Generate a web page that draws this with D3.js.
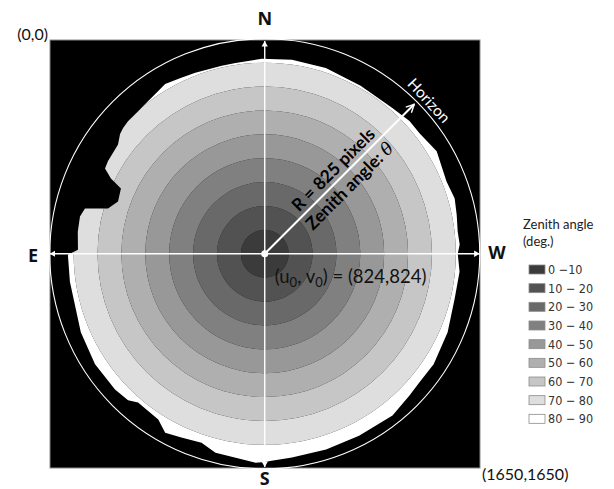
<!DOCTYPE html>
<html>
<head>
<meta charset="utf-8">
<script src="https://cdn.jsdelivr.net/npm/d3@7"></script>
<style>
  body { margin: 0; background: #fff; }
  svg { display: block; }
</style>
</head>
<body>
<svg id="chart" width="614" height="489"></svg>
<script>
// zenith angle classes (deg.)
const ringLabels = ["0 \u221210", "10 \u2212 20", "20 \u2212 30", "30 \u2212 40", "40 \u2212 50",
                    "50 \u2212 60", "60 \u2212 70", "70 \u2212 80", "80 \u2212 90"];
const ringLower = [0, 10, 20, 30, 40, 50, 60, 70, 80];
const ringUpper = [10, 20, 30, 40, 50, 60, 70, 80, 90];
const ringColors = ["#3b3b3b", "#525252", "#696969", "#808080", "#989898",
                    "#afafaf", "#c6c6c6", "#dedede", "#ffffff"];

// image frame in pixels, optical centre and radius
const imageSize = 1650;
const centerPx = [824, 824];
const radiusPx = 825;

// visible sky edge: azimuth (N=0, E=90, S=180, W=270) and zenith limit
const maskAzimuth = [0.9, 8.7, 12.9, 21.0, 25.4, 30.4, 33.2, 38.6, 41.6, 45.9, 48.4, 50.4, 53.3,
  59.5, 61.9, 63.9, 65.6, 70.4, 73.9, 75.9, 78.6, 83.3, 88.8, 90.3, 98.2, 105.1, 113.1, 123.1,
  132.2, 137.0, 139.6, 147.3, 150.9, 155.6, 161.5, 166.1, 171.9, 177.5, 180.0, 181.9, 187.6,
  197.4, 207.4, 218.3, 225.6, 230.3, 236.8, 246.8, 256.6, 264.7, 270.0, 272.7, 276.5, 281.5,
  286.2, 291.7, 300.8, 307.9, 312.5, 318.8, 330.3, 341.8, 352.0];
const maskZenith = [81.6, 80.8, 80.7, 81.1, 81.5, 82.4, 81.4, 80.2, 79.8, 79.7, 79.3, 78.6, 76.6,
  76.2, 75.8, 71.7, 66.1, 65.2, 68.3, 77.6, 78.9, 78.8, 78.2, 82.4, 82.4, 82.3, 83.7, 84.8,
  84.6, 83.9, 81.8, 82.5, 85.7, 84.5, 83.4, 85.8, 86.3, 87.6, 87.2, 86.7, 86.1,
  85.9, 85.8, 86.3, 84.8, 84.2, 84.5, 83.3, 81.7, 81.9, 80.8, 81.7, 81.3, 82.0,
  82.8, 81.9, 83.8, 82.1, 82.2, 81.1, 81.0, 81.9, 82.0];

const svg = d3.select("#chart");

let x = d3.scaleLinear().domain([0, imageSize]).range([50, 480]);
let y = d3.scaleLinear().domain([0, imageSize]).range([40, 468]);
let cx = x(centerPx[0]);
let cy = y(centerPx[1]);
let rPix = (x(radiusPx) - x(0)) ;
let r = d3.scaleLinear().domain([0, 90]).range([0, rPix]);

let defs = svg.append("defs");

defs.append("marker")
    .attr("id", "tri")
    .attr("viewBox", "0 0 10 10")
    .attr("refX", 8).attr("refY", 5)
    .attr("markerWidth", 5).attr("markerHeight", 5.5)
    .attr("markerUnits", "strokeWidth")
    .attr("orient", "auto-start-reverse")
    .append("path")
    .attr("d", "M0,0.5 L8,5 L0,9.5 Z")
    .attr("fill", "#fff");

defs.append("marker")
    .attr("id", "open")
    .attr("viewBox", "0 0 10 10")
    .attr("refX", 9).attr("refY", 5)
    .attr("markerWidth", 5).attr("markerHeight", 5)
    .attr("markerUnits", "strokeWidth")
    .attr("orient", "auto")
    .append("path")
    .attr("d", "M1,1 L9,5 L1,9")
    .attr("fill", "none")
    .attr("stroke", "#fff")
    .attr("stroke-width", 1.4);

// sky mask from the edge points
let maskPts = maskAzimuth.map((a, i) => [a, maskZenith[i]]);
let maskLine = d3.lineRadial()
    .angle(d => -d[0] * Math.PI / 180)
    .radius(d => r(d[1]))
    .curve(d3.curveLinearClosed);

defs.append("clipPath").attr("id", "sky")
    .append("path")
    .attr("transform", "translate(" + cx + "," + cy + ")")
    .attr("d", maskLine(maskPts));

// black frame
svg.append("rect")
    .attr("x", x(0)).attr("y", y(0))
    .attr("width", x(imageSize) - x(0))
    .attr("height", y(imageSize) - y(0))
    .attr("fill", "#000")
    .attr("stroke", "#8a8a8a")
    .attr("stroke-width", 1);

// zenith rings
let arc = d3.arc()
    .innerRadius(d => r(d.lo))
    .outerRadius(d => r(d.hi))
    .startAngle(0).endAngle(2 * Math.PI);

let rings = ringLower.map((lo, i) => ({lo: lo, hi: ringUpper[i], color: ringColors[i]}));

svg.append("g")
    .attr("clip-path", "url(#sky)")
    .append("g")
    .attr("transform", "translate(" + cx + "," + cy + ")")
    .selectAll("path")
    .data(rings)
    .enter().append("path")
    .attr("d", arc)
    .attr("fill", d => d.color);

// horizon
svg.append("circle")
    .attr("cx", cx).attr("cy", cy).attr("r", r(90))
    .attr("fill", "none")
    .attr("stroke", "#fff")
    .attr("stroke-width", 1.1);

// N-S and E-W axes
svg.append("line")
    .attr("x1", cx).attr("y1", y(imageSize) - 1)
    .attr("x2", cx).attr("y2", y(0) + 1)
    .attr("stroke", "#fff").attr("stroke-width", 1.4)
    .attr("marker-start", "url(#tri)")
    .attr("marker-end", "url(#tri)");

svg.append("line")
    .attr("x1", cx - r(90)).attr("y1", cy)
    .attr("x2", cx + r(90)).attr("y2", cy)
    .attr("stroke", "#fff").attr("stroke-width", 1.4)
    .attr("marker-start", "url(#tri)")
    .attr("marker-end", "url(#tri)");

// radius arrow towards 45 deg
let ang = -45 * Math.PI / 180;
let tipR = r(88.5);
svg.append("line")
    .attr("x1", cx).attr("y1", cy)
    .attr("x2", cx + tipR * Math.cos(ang)).attr("y2", cy + tipR * Math.sin(ang))
    .attr("stroke", "#fff").attr("stroke-width", 2)
    .attr("marker-end", "url(#open)");

svg.append("circle")
    .attr("cx", cx).attr("cy", cy).attr("r", 3.5)
    .attr("fill", "#fff");

// labels along the arrow
let along = 108;
let ax = cx + along * Math.cos(ang), ay = cy + along * Math.sin(ang);
svg.append("text")
    .attr("transform", "translate(" + ax + "," + ay + ") rotate(-45)")
    .attr("y", -5)
    .attr("text-anchor", "middle")
    .style("font-family", "Lato, 'Open Sans', sans-serif")
    .style("font-weight", "bold")
    .style("font-size", "17.5px")
    .attr("fill", "#000")
    .text("R = 825 pixels");

let zt = svg.append("text")
    .attr("transform", "translate(" + ax + "," + ay + ") rotate(-45)")
    .attr("y", 18)
    .attr("text-anchor", "middle")
    .style("font-family", "Lato, 'Open Sans', sans-serif")
    .style("font-weight", "bold")
    .style("font-size", "17.5px")
    .attr("fill", "#000");
zt.append("tspan").text("Zenith angle: ");
zt.append("tspan")
    .style("font-family", "'DejaVu Serif', serif")
    .style("font-style", "italic")
    .style("font-weight", "normal")
    .text("\u03b8");

// horizon label
let hAng = 47;
let hR = r(90) + 4;
let hx = cx + hR * Math.sin(hAng * Math.PI / 180);
let hy = cy - hR * Math.cos(hAng * Math.PI / 180);
svg.append("text")
    .attr("transform", "translate(" + hx + "," + hy + ") rotate(" + hAng + ")")
    .attr("text-anchor", "middle")
    .style("font-family", "Lato, 'Open Sans', sans-serif")
    .style("font-size", "15.5px")
    .attr("fill", "#fff")
    .text("Horizon");

// centre coordinates
let ct = svg.append("text")
    .attr("x", cx + 10).attr("y", cy + 29)
    .style("font-family", "Lato, 'Open Sans', sans-serif")
    .style("font-size", "18.5px")
    .attr("fill", "#111");
ct.append("tspan").text("(u");
ct.append("tspan").attr("dy", 4).style("font-size", "13px").text("0");
ct.append("tspan").attr("dy", -4).text(", v");
ct.append("tspan").attr("dy", 4).style("font-size", "13px").text("0");
ct.append("tspan").attr("dy", -4).text(") = (" + centerPx[0] + "," + centerPx[1] + ")");

// compass letters
let compass = [
    {t: "N", x: cx, y: 25},
    {t: "S", x: cx, y: 485},
    {t: "E", x: 33, y: 262},
    {t: "W", x: 497, y: 259}
];
svg.selectAll(".dir")
    .data(compass)
    .enter().append("text")
    .attr("class", "dir")
    .attr("x", d => d.x).attr("y", d => d.y)
    .attr("text-anchor", "middle")
    .style("font-family", "'Open Sans', sans-serif")
    .style("font-weight", "bold")
    .style("font-size", "18px")
    .attr("fill", "#111")
    .text(d => d.t);

// corner coordinates
svg.append("text")
    .attr("x", 48).attr("y", 40)
    .attr("text-anchor", "end")
    .style("font-family", "Lato, 'Open Sans', sans-serif")
    .style("font-size", "16px")
    .attr("fill", "#111")
    .text("(0,0)");

svg.append("text")
    .attr("x", 482).attr("y", 480)
    .style("font-family", "Lato, 'Open Sans', sans-serif")
    .style("font-size", "16px")
    .attr("fill", "#111")
    .text("(" + imageSize + "," + imageSize + ")");

// legend
let legend = svg.append("g").attr("transform", "translate(523,0)");
legend.append("text")
    .attr("x", 0).attr("y", 229)
    .style("font-family", "Lato, 'Open Sans', sans-serif")
    .style("font-size", "13px")
    .attr("fill", "#222")
    .text("Zenith angle");
legend.append("text")
    .attr("x", 0).attr("y", 246)
    .style("font-family", "Lato, 'Open Sans', sans-serif")
    .style("font-size", "13px")
    .attr("fill", "#222")
    .text("(deg.)");

let ly = d3.scaleBand().domain(ringLabels).range([260, 428]);

let items = legend.selectAll(".item")
    .data(rings)
    .enter().append("g")
    .attr("class", "item")
    .attr("transform", (d, i) => "translate(0," + ly(ringLabels[i]) + ")");

items.append("rect")
    .attr("x", 6).attr("y", 5)
    .attr("width", 16).attr("height", 9)
    .attr("fill", d => d.color)
    .attr("stroke", "#8c8c8c")
    .attr("stroke-width", 0.8);

items.append("text")
    .attr("x", 25).attr("y", 14)
    .style("font-family", "'Liberation Sans Narrow', 'DejaVu Sans Condensed', sans-serif")
    .style("font-size", "12.5px")
    .attr("fill", "#333")
    .text((d, i) => ringLabels[i]);
</script>
</body>
</html>
